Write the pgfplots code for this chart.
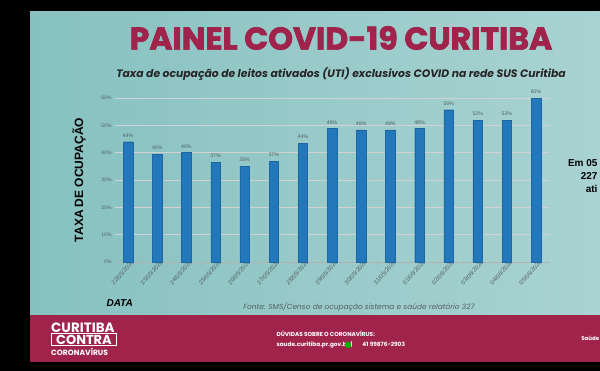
\documentclass[border=0pt]{standalone}
\usepackage{pgfplots}
\pgfplotsset{compat=1.18}
\usepackage{pgfplotstable}
\usepackage{fontspec}
\setmainfont{Poppins}
\newfontfamily\heavy{Poppins}[BoldFeatures={FakeBold=2.2}]
\newfontfamily\lib{Liberation Sans}
\definecolor{maroon}{HTML}{A0234B}
\definecolor{tealA}{HTML}{86C1C0}
\definecolor{tealB}{HTML}{D9ECEC}
\definecolor{tealC}{HTML}{A9D3D2}
\definecolor{barblue}{HTML}{2378BC}
\definecolor{txtgrey}{HTML}{555F66}
\pgfplotstableread{
x val lab
0 44.0 44\%
1 39.5 40\%
2 40.0 40\%
3 36.5 37\%
4 35.1 35\%
5 36.9 37\%
6 43.5 44\%
7 48.8 49\%
8 48.3 48\%
9 48.3 48\%
10 48.8 49\%
11 55.7 56\%
12 51.8 52\%
13 51.8 52\%
14 59.9 60\%
}\data
\begin{document}
\begin{tikzpicture}[x=1pt,y=1pt]
\useasboundingbox (0,0) rectangle (600,371);
\fill[black] (0,0) rectangle (600,371);
\shade[left color=tealA, middle color=tealB, right color=tealC] (30,56) rectangle (600,359);
\fill[maroon] (30,9) rectangle (600,56);
% title
\node[text=maroon, font=\heavy\fontsize{31.5}{32}\selectfont\bfseries] at (341,333) {PAINEL COVID-19 CURITIBA};
\node[text=black!85, font=\fontsize{10.8}{11}\selectfont\bfseries\itshape] at (341,297) {Taxa de ocupação de leitos ativados (UTI) exclusivos COVID na rede SUS Curitiba};
\node[rotate=90, font=\lib\fontsize{12}{12}\selectfont\bfseries] at (79,191) {TAXA DE OCUPAÇÃO};
\node[font=\lib\fontsize{10}{10}\selectfont\bfseries\itshape, anchor=west] at (103,68) {DATA};
\node[text=txtgrey, font=\fontsize{7.4}{7.4}\selectfont\itshape] at (359,64) {Fonte: SMS/Censo de ocupação sistema e saúde relatório 327};
\begin{axis}[
  at={(115pt,109pt)}, anchor=south west,
  scale only axis, width=435pt, height=164pt,
  xmin=-0.45, xmax=14.48, ymin=0, ymax=60,
  ytick={0,10,...,60},
  yticklabel={\pgfmathprintnumber{\tick}\%},
  xtick={0,...,14},
  xticklabels={22/05/2020,23/05/2020,24/05/2020,25/05/2020,26/05/2020,27/05/2020,28/05/2020,29/05/2020,30/05/2020,31/05/2020,01/06/2020,02/06/2020,03/06/2020,04/06/2020,05/06/2020},
  xticklabel style={rotate=48, anchor=east, font=\lib\fontsize{6}{6}\selectfont, text=txtgrey, inner sep=0.5pt, xshift=4pt, yshift=-3pt},
  yticklabel style={font=\lib\fontsize{5}{5}\selectfont, text=txtgrey},
  /pgf/number format/assume math mode=true,
  major tick length=0pt,
  minor xtick={-0.5,0.5,...,14.5},
  minor tick length=2.5pt,
  tick align=outside,
  minor tick style={gray!60},
  axis x line*=bottom, axis y line*=left,
  y axis line style={draw=none},
  x axis line style={gray!60, -},
  ymajorgrids, grid style={gray!35, line width=0.5pt},
  clip=false,
]
\addplot[ybar, bar width=9.5pt, fill=barblue, draw=barblue!85!black,
  nodes near coords, point meta=explicit symbolic,
  every node near coord/.append style={font=\lib\fontsize{5.2}{5}\selectfont, text=txtgrey, yshift=1pt}]
  table[x=x, y=val, meta=lab] {\data};
\end{axis}
% right cut-off text (only the part visible in the reference)
\begin{scope}
\clip (30,9) rectangle (600,359);
\node[anchor=east, font=\lib\fontsize{10}{10}\selectfont\bfseries] at (601,208) {Em 05};
\node[anchor=east, font=\lib\fontsize{10}{10}\selectfont\bfseries] at (601,195) {227};
\node[anchor=east, font=\lib\fontsize{10}{10}\selectfont\bfseries] at (601,182) {ati};
% footer logo
\node[anchor=west, text=white, inner sep=0pt, font=\fontsize{13.5}{13.5}\selectfont\bfseries] at (51,43) {CURITIBA};
\node[anchor=west, text=white, draw=white, line width=0.9pt, inner sep=1pt, minimum width=65pt, font=\fontsize{13}{13}\selectfont\bfseries] at (51,31.5) {CONTRA};
\node[anchor=west, text=white, inner sep=0pt, font=\fontsize{7.6}{7.6}\selectfont\bfseries] at (51,19) {CORONAVÍRUS};
% footer contact
\node[anchor=west, text=white, font=\fontsize{5.8}{5.8}\selectfont\bfseries] at (273,37) {DÚVIDAS SOBRE O CORONAVÍRUS:};
\node[anchor=west, text=white, font=\fontsize{5.8}{5.8}\selectfont\bfseries] at (273,26) {saude.curitiba.pr.gov.br \textbar\ \hspace{9pt}41 99876-2903};
\fill[green!70!black] (348,26) circle (3.2pt);
\node[anchor=east, text=white, inner sep=0.5pt, font=\fontsize{5.5}{5.5}\selectfont\bfseries] at (600,33) {Saúde};
\end{scope}
\end{tikzpicture}
\end{document}
